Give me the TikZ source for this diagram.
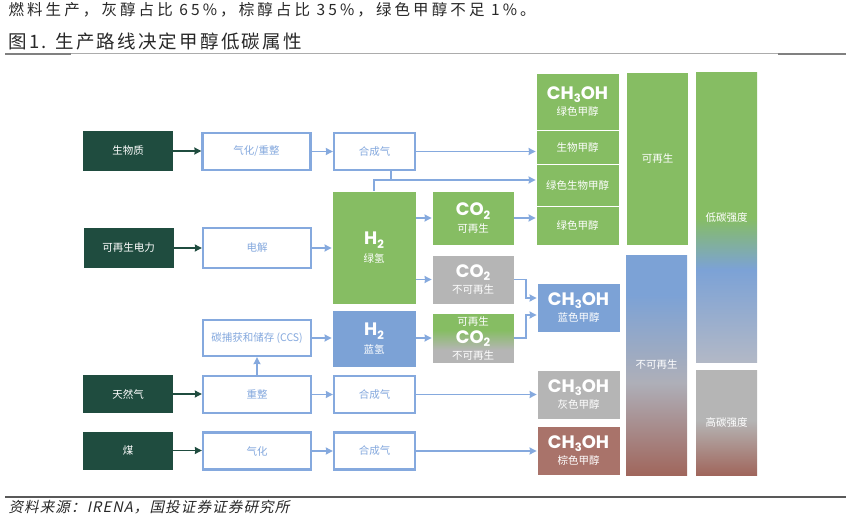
\documentclass[tikz,border=0pt]{standalone}
\usepackage{fontspec}
\setmainfont{Noto Sans CJK SC}
\newfontfamily\slantcjk{Noto Sans CJK SC}[FakeSlant=0.22, LetterSpace=8]
\newfontfamily\widecjk{Noto Sans CJK SC}[LetterSpace=20]
\newfontfamily\titlecjk{Noto Sans CJK SC}[LetterSpace=12]
\newfontfamily\geo{Poppins}
\usetikzlibrary{arrows.meta}

\definecolor{dkgreen}{RGB}{31,76,63}
\definecolor{mgreen}{RGB}{134,189,99}
\definecolor{mblue}{RGB}{124,162,214}
\definecolor{lblue}{RGB}{133,169,222}
\definecolor{mgray}{RGB}{181,181,181}
\definecolor{nrgray}{RGB}{174,175,184}
\definecolor{lowbot}{RGB}{178,184,198}
\definecolor{mbrown}{RGB}{169,115,106}
\definecolor{colbrown}{RGB}{160,102,92}
\definecolor{txtdark}{RGB}{40,40,40}

\newcommand{\lab}{\fontsize{10.5}{12}\selectfont}
\newcommand{\chf}{\geo\fontsize{18}{18}\selectfont\bfseries}
\newcommand{\subs}[1]{\raisebox{-0.35ex}{\fontsize{11.5}{11.5}\selectfont #1}}

% Verlaeufe der Saeulen (25bp = unten, 75bp = oben)
\pgfdeclareverticalshading{lowc}{100bp}{color(0bp)=(lowbot); color(25bp)=(lowbot); color(41bp)=(mblue); color(50bp)=(mgreen); color(75bp)=(mgreen); color(100bp)=(mgreen)}
\pgfdeclareverticalshading{nonren}{100bp}{color(0bp)=(colbrown); color(25bp)=(colbrown); color(46bp)=(nrgray); color(66bp)=(mblue); color(75bp)=(mblue); color(100bp)=(mblue)}
\pgfdeclareverticalshading{highc}{100bp}{color(0bp)=(colbrown); color(25bp)=(colbrown); color(51bp)=(mgray); color(75bp)=(mgray); color(100bp)=(mgray)}
\pgfdeclareverticalshading{mixco}{100bp}{color(0bp)=(mgray); color(25bp)=(mgray); color(38bp)=(mgray); color(58bp)=(mgreen); color(75bp)=(mgreen); color(100bp)=(mgreen)}

\begin{document}
\begin{tikzpicture}[
  x=1pt, y=-1pt,
  src/.style = {fill=dkgreen, text=white, minimum width=90pt, minimum height=40pt, inner sep=0pt, font=\lab},
  proc/.style = {draw=lblue, line width=2.3pt, fill=white, text=lblue, minimum width=108pt, minimum height=37pt, inner sep=0pt, font=\lab},
  gas/.style = {proc, minimum width=81pt},
  blk/.style = {draw=white, line width=0.8pt, text=white, inner sep=0pt, align=center, font=\lab, minimum width=83pt},
  bar/.style = {text=white, inner sep=0pt, font=\lab, minimum width=61pt},
  wtxt/.style = {text=white, inner sep=0pt, font=\lab},
  darrow/.style = {->, >={Stealth[length=7pt,width=7pt,inset=0.5pt]}, dkgreen, line width=1.4pt},
  barrow/.style = {->, >={Stealth[length=7pt,width=7pt,inset=0.5pt]}, lblue, line width=1.4pt},
  bline/.style = {lblue, line width=1.4pt}]

  \fill[white] (0,0) rectangle (851,532);
  \useasboundingbox (0,0) rectangle (851,532);

  % Kopf
  \node[anchor=west, text=txtdark, font=\widecjk\fontsize{15.5}{16}\selectfont] (lead) at (5,10)
    {燃料生产，灰醇占比 65\%，棕醇占比 35\%，绿色甲醇不足 1\%。};
  \node[anchor=west, text=txtdark, font=\titlecjk\fontsize{18.5}{19}\selectfont] (title) at (5,41)
    {图1. 生产路线决定甲醇低碳属性};
  \draw[gray!65, line width=1pt] (5,54) -- (846,54);
  \draw[gray, line width=2pt] (5,54) -- (71,54);
  \draw[gray, line width=2pt] (778,54) -- (846,54);

  % Rohstoffe
  \node[src] (bio) at (128,151) {生物质};
  \node[src] (elec) at (128.5,248) {可再生电力};
  \node[src, minimum height=38pt] (ngas) at (128,394) {天然气};
  \node[src, minimum height=38pt] (coal) at (128,450.5) {煤};

  % Prozesse
  \node[proc] (gasref) at (256.5,151.5) {气化/重整};
  \node[proc, minimum height=40pt] (electro) at (257,248) {电解};
  \node[proc, minimum height=36pt] (ccs) at (257,338) {碳捕获和储存 (CCS)};
  \node[proc] (reform) at (257,394.5) {重整};
  \node[proc] (gasify) at (257,451) {气化};

  % Synthesegas
  \node[gas] (syn1) at (374.5,151.5) {合成气};
  \node[gas] (syn2) at (374.5,394.5) {合成气};
  \node[gas] (syn3) at (374.5,451) {合成气};

  % Wasserstoff
  \node[blk, fill=mgreen, minimum width=84pt, minimum height=113pt] (h2g) at (374,247.5)
    {{\chf H\subs{2}}\\[4pt]绿氢};
  \node[blk, fill=mblue, minimum width=84pt, minimum height=57pt] (h2b) at (374,338.5)
    {{\chf H\subs{2}}\\[4pt]蓝氢};

  % CO2
  \node[blk, fill=mgreen, minimum width=82pt, minimum height=54pt] (co2r) at (473,218)
    {{\chf CO\subs{2}}\\[3pt]可再生};
  \node[blk, fill=mgray, minimum width=82pt, minimum height=49pt] (co2n) at (473,279.5)
    {{\chf CO\subs{2}}\\[3pt]不可再生};
  \node[blk, shade, shading=mixco, minimum width=82pt, minimum height=50pt] (co2m) at (473,338) {};
  \node[wtxt] (co2mtop) at (473,321.5) {可再生};
  \node[wtxt, font=\chf] (co2mmid) at (473,338.5) {CO\subs{2}};
  \node[wtxt] (co2mbot) at (473,356) {不可再生};

  % Methanol
  \node[blk, fill=mgreen, minimum height=57pt] (gme) at (577.5,101.5)
    {{\chf CH\subs{3}OH}\\[3pt]绿色甲醇};
  \node[blk, fill=mgreen, minimum height=34pt] (bme) at (577.5,147) {生物甲醇};
  \node[blk, fill=mgreen, minimum height=42pt] (gbme) at (577.5,185) {绿色生物甲醇};
  \node[blk, fill=mgreen, minimum height=39pt] (gme2) at (577.5,225.5) {绿色甲醇};
  \node[blk, fill=mblue, minimum height=49pt] (blume) at (578.5,307.5)
    {{\chf CH\subs{3}OH}\\[3pt]蓝色甲醇};
  \node[blk, fill=mgray, minimum height=49pt] (grayme) at (578.5,394.5)
    {{\chf CH\subs{3}OH}\\[3pt]灰色甲醇};
  \node[blk, fill=mbrown, minimum height=49pt] (brme) at (578.5,450.5)
    {{\chf CH\subs{3}OH}\\[3pt]棕色甲醇};

  % Saeulen
  \node[bar, fill=mgreen, minimum height=172pt] (ren) at (657.5,159) {可再生};
  \node[bar, shade, shading=nonren, minimum height=220pt] (nren) at (656.5,365) {不可再生};
  \node[bar, shade, shading=lowc, minimum height=289pt] (lowci) at (726.5,217.5) {低碳强度};
  \node[bar, shade, shading=highc, minimum height=105pt] (highci) at (726.5,422.5) {高碳强度};

  % Verbindungen
  \draw[darrow] (bio.east) -- (bio.east -| gasref.west);
  \draw[darrow] (elec.east) -- (elec.east -| electro.west);
  \draw[darrow] (ngas.east) -- (ngas.east -| reform.west);
  \draw[darrow] (coal.east) -- (coal.east -| gasify.west);

  \draw[barrow] (gasref.east) -- (gasref.east -| syn1.west);
  \draw[barrow] (syn1.east) -- (syn1.east -| bme.west);
  \coordinate (jn) at (391,180);
  \draw[bline] (syn1.south -| jn) -- (jn);
  \draw[barrow] (h2g.north) |- (gbme.west |- jn);
  \draw[barrow] (electro.east) -- (electro.east -| h2g.west);
  \draw[barrow] (h2g.east |- co2r) -- (co2r.west);
  \draw[barrow] (h2g.east |- co2n) -- (co2n.west);
  \draw[barrow] (co2r.east) -- (co2r.east -| gme2.west);

  \coordinate (kn) at (526,298);
  \coordinate (km) at (526,315);
  \draw[barrow] (co2n.east) -| (kn) -- (kn -| blume.west);
  \draw[barrow] (co2m.east) -| (km) -- (km -| blume.west);

  \draw[barrow] (ccs.east) -- (ccs.east -| h2b.west);
  \draw[barrow] (h2b.east |- co2m) -- (co2m.west);
  \draw[barrow] (reform.north) -- (ccs.south);
  \draw[barrow] (reform.east) -- (reform.east -| syn2.west);
  \draw[barrow] (syn2.east) -- (syn2.east -| grayme.west);
  \draw[barrow] (gasify.east) -- (gasify.east -| syn3.west);
  \draw[barrow] (syn3.east) -- (syn3.east -| brme.west);

  % Fuss
  \draw[gray!70!black, line width=1.6pt] (5,497) -- (846,497);
  \node[anchor=west, text=txtdark, font=\slantcjk\fontsize{14.5}{15}\selectfont] (source) at (5,507)
    {资料来源：IRENA，国投证券证券研究所};
\end{tikzpicture}
\end{document}
